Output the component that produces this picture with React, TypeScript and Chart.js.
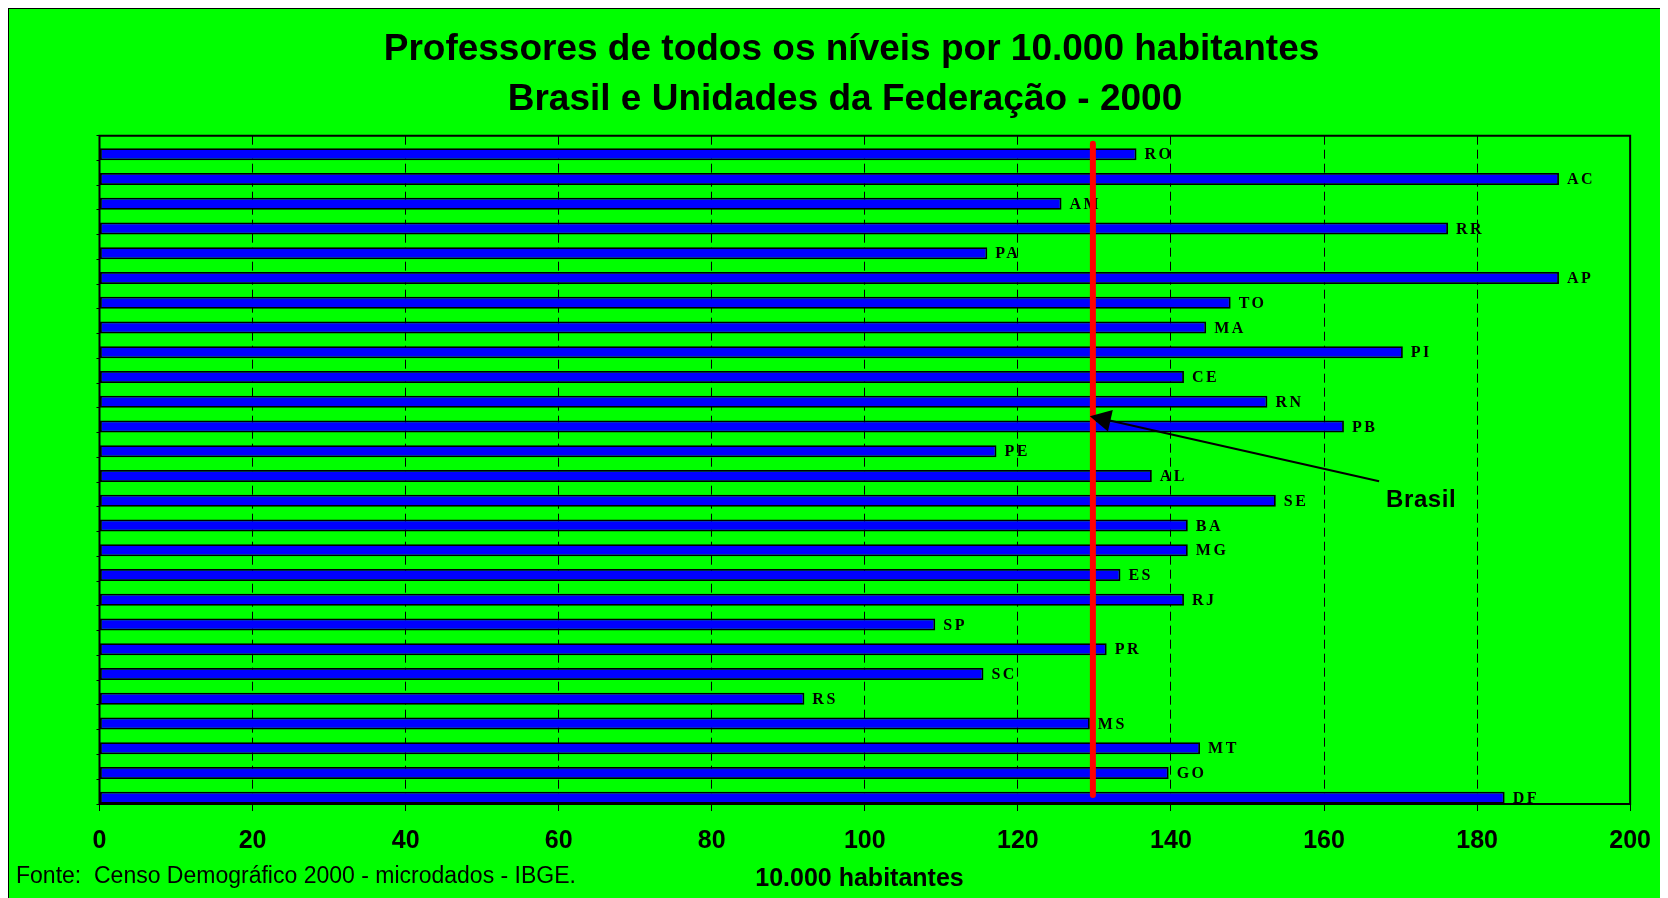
import React, { useEffect, useRef } from 'react';
import { Chart, registerables } from 'chart.js';

Chart.register(...registerables);

const categories = ['RO', 'AC', 'AM', 'RR', 'PA', 'AP', 'TO', 'MA', 'PI', 'CE', 'RN', 'PB', 'PE', 'AL', 'SE', 'BA', 'MG', 'ES', 'RJ', 'SP', 'PR', 'SC', 'RS', 'MS', 'MT', 'GO', 'DF'];
const values = [135.5, 190.7, 125.7, 176.2, 116.0, 190.7, 147.8, 144.6, 170.3, 141.7, 152.6, 162.6, 117.2, 137.5, 153.7, 142.2, 142.2, 133.4, 141.7, 109.2, 131.6, 115.5, 92.1, 129.4, 143.8, 139.7, 183.6];
const emptySeries = categories.map(() => null);
const brasilValue = 129.8;
const xMin = 0;
const xMax = 200;
const xStep = 20;

const titleLines = ['Professores de todos os níveis por 10.000 habitantes', 'Brasil e Unidades da Federação - 2000'];
const sourceText = 'Fonte:  Censo Demográfico 2000 - microdados - IBGE.';
const axisTitle = '10.000 habitantes';
const brasilLabel = 'Brasil';

// annotation anchors in data coordinates (x value, category index)
const arrowTipY = 10.83;
const arrowTail = { x: 167.2, y: 13.46 };
const brasilLabelPos = { x: 168.1, y: 14.49 };

const SANS = 'Arial, "Liberation Sans", sans-serif';
const SERIF = '"Liberation Serif", "Times New Roman", serif';

const decorPlugin = {
  id: 'decor',
  beforeDatasetsDraw(chart: any) {
    const { ctx, chartArea: a } = chart;
    ctx.save();
    ctx.strokeStyle = '#000';
    ctx.lineWidth = 2;
    ctx.setLineDash([]);
    ctx.beginPath();
    ctx.moveTo(a.left, a.bottom);
    ctx.lineTo(a.left, a.top);
    ctx.lineTo(a.right, a.top);
    ctx.lineTo(a.right, a.bottom);
    ctx.lineTo(a.left, a.bottom);
    ctx.stroke();
    ctx.restore();
  },
  afterDatasetsDraw(chart: any) {
    const { ctx, chartArea: a } = chart;
    const xs = chart.scales.x;
    const ys = chart.scales.y;
    ctx.save();
    // bar labels
    const meta = chart.getDatasetMeta(1);
    ctx.font = `bold 16px ${SERIF}`;
    (ctx as any).letterSpacing = '2.5px';
    ctx.fillStyle = '#000';
    ctx.textAlign = 'left';
    ctx.textBaseline = 'middle';
    meta.data.forEach((bar: any, i: number) => {
      ctx.fillText(categories[i], bar.x + 8, bar.y + 1);
    });
    (ctx as any).letterSpacing = '0px';

    // Brasil line
    const bx = xs.getPixelForValue(brasilValue);
    ctx.strokeStyle = '#FF0000';
    ctx.lineWidth = 6;
    ctx.lineCap = 'round';
    ctx.beginPath();
    ctx.moveTo(bx, a.top + 8);
    ctx.lineTo(bx, a.bottom - 9);
    ctx.stroke();

    // arrow
    const tipX = bx - 3;
    const tipY = ys.getPixelForValue(arrowTipY);
    const tailX = xs.getPixelForValue(arrowTail.x);
    const tailY = ys.getPixelForValue(arrowTail.y);
    const dx = tailX - tipX;
    const dy = tailY - tipY;
    const len = Math.sqrt(dx * dx + dy * dy);
    const ux = dx / len;
    const uy = dy / len;
    const headLen = 21;
    const headW = 11;
    ctx.strokeStyle = '#000';
    ctx.lineWidth = 2;
    ctx.lineCap = 'butt';
    ctx.beginPath();
    ctx.moveTo(tailX, tailY);
    ctx.lineTo(tipX + ux * headLen * 0.8, tipY + uy * headLen * 0.8);
    ctx.stroke();
    const baseX = tipX + ux * headLen;
    const baseY = tipY + uy * headLen;
    ctx.fillStyle = '#000';
    ctx.beginPath();
    ctx.moveTo(tipX, tipY);
    ctx.lineTo(baseX - uy * headW, baseY + ux * headW);
    ctx.lineTo(baseX + uy * headW, baseY - ux * headW);
    ctx.closePath();
    ctx.fill();

    ctx.font = `bold 24px ${SANS}`;
    (ctx as any).letterSpacing = '0.6px';
    ctx.textBaseline = 'alphabetic';
    ctx.textAlign = 'left';
    ctx.fillText(brasilLabel, xs.getPixelForValue(brasilLabelPos.x), ys.getPixelForValue(brasilLabelPos.y));
    (ctx as any).letterSpacing = '0px';
    ctx.restore();
  },
  afterDraw(chart: any) {
    const { ctx } = chart;
    ctx.save();
    ctx.fillStyle = '#000';
    ctx.textBaseline = 'alphabetic';
    ctx.textAlign = 'center';
    ctx.font = `bold 37px ${SANS}`;
    ctx.fillText(titleLines[0], 842.5, 51);
    ctx.fillText(titleLines[1], 836, 101);
    ctx.font = `23px ${SANS}`;
    ctx.textAlign = 'left';
    ctx.fillText(sourceText, 7, 874);
    ctx.font = `bold 25px ${SANS}`;
    ctx.textAlign = 'center';
    ctx.fillText(axisTitle, 850.5, 877);
    ctx.restore();
  },
};

export default function App() {
  const canvasRef = useRef<HTMLCanvasElement>(null);

  useEffect(() => {
    document.documentElement.style.overflow = 'hidden';
    const canvas = canvasRef.current!;
    const chart = new Chart(canvas, {
      type: 'bar',
      data: {
        labels: categories,
        datasets: [
          {
            label: 'spacer',
            data: emptySeries as any,
            backgroundColor: 'rgba(0,0,0,0)',
            borderWidth: 0,
          },
          {
            label: 'Professores por 10.000 habitantes',
            data: values,
            backgroundColor: '#0000FF',
            borderColor: '#000000',
            borderWidth: 1.8,
            borderSkipped: false,
          },
        ],
      },
      options: {
        indexAxis: 'y',
        animation: false,
        responsive: false,
        devicePixelRatio: 1,
        categoryPercentage: 1,
        barPercentage: 0.97,
        layout: { padding: { left: 87.5, top: 126.7, right: 35.7, bottom: 34 } },
        plugins: {
          legend: { display: false },
          title: { display: false },
          tooltip: { enabled: false },
        },
        scales: {
          x: {
            type: 'linear',
            min: xMin,
            max: xMax,
            afterFit: (scale: any) => { scale.height = 60; },
            ticks: {
              stepSize: xStep,
              color: '#000',
              padding: 15,
              font: { family: SANS, size: 25, weight: 'bold' },
            },
            grid: {
              color: '#000',
              lineWidth: 1,
              tickLength: 7,
              tickColor: '#000',
              tickWidth: 1,
              tickBorderDash: [],
            } as any,
            border: { display: false, dash: [9, 5] },
          },
          y: {
            type: 'category',
            afterFit: (scale: any) => { scale.width = 3; },
            ticks: { display: false },
            grid: {
              display: true,
              drawOnChartArea: false,
              tickLength: 3,
              color: '#000',
              lineWidth: 1,
            },
            border: { display: false },
          },
        },
      } as any,
      plugins: [decorPlugin],
    });
    return () => chart.destroy();
  }, []);

  return (
    <div
      style={{
        width: 1657,
        height: 889,
        background: '#00FF00',
        borderLeft: '1px solid #000',
        borderTop: '1px solid #000',
        borderRight: '1px solid #000',
      }}
    >
      <canvas ref={canvasRef} width={1657} height={889} style={{ display: 'block', width: 1657, height: 889 }} />
    </div>
  );
}
